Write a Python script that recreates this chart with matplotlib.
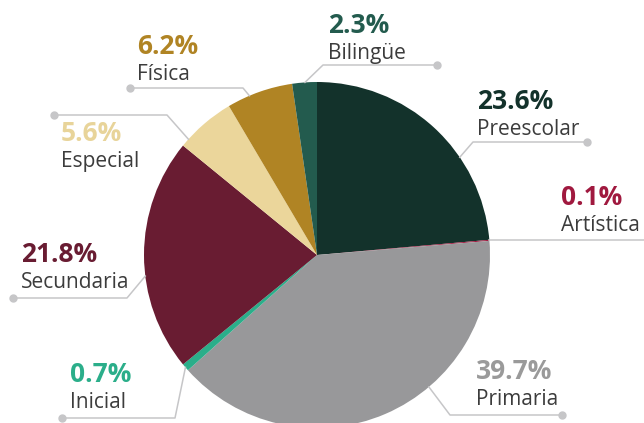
import numpy as np
import matplotlib.pyplot as plt

# Distribución por tipo de educación (%)
categorias = ['Preescolar', 'Artística', 'Primaria', 'Inicial',
              'Secundaria', 'Especial', 'Física', 'Bilingüe']
porcentajes = [23.6, 0.1, 39.7, 0.7, 21.8, 5.6, 6.2, 2.3]
colores = ['#13322b', '#a0193f', '#98989a', '#2bae8a',
           '#691c32', '#ebd69b', '#b08424', '#235b4e']
colores_texto = ['#13322b', '#a0193f', '#9a9a9a', '#2bae8a',
                 '#691c32', '#e8d49a', '#b08424', '#235b4e']

W, H = 644, 423
cx, cy, r = 317, 255, 173

# posición de cada etiqueta (px, eje y hacia abajo)
txt_x = [477, 561, 476, 70, 21, 61, 137, 328]
txt_y = [109, 205, 379, 382, 262, 141, 54, 33]
# línea guía: ángulo en el borde, codo y punto final
ang = [34.4, 4.86, -49.7, -139.5, 187, 138, 113, 94]
codo = [(473, 142), None, (450, 415), (175, 418), (127, 298),
        (167, 115), (243, 88), (323, 65)]
punto_x = [587, 644, 562, 62, 13, 54, 130, 437]

fig = plt.figure(figsize=(W / 100, H / 100), dpi=100)
ax = fig.add_axes([0, 0, 1, 1])

ax.pie(porcentajes, colors=colores, center=(cx, cy), radius=r,
       startangle=-90, counterclock=True,
       wedgeprops=dict(linewidth=0))

gris = '#c6c6c8'
for i in range(len(categorias)):
    a = np.radians(ang[i])
    x0 = cx + r * np.cos(a)
    y0 = cy - r * np.sin(a)
    if codo[i] is None:
        xs, ys = [x0, punto_x[i]], [y0, y0]
    else:
        xs = [x0, codo[i][0], punto_x[i]]
        ys = [y0, codo[i][1], codo[i][1]]
        ax.plot(punto_x[i], ys[-1], 'o', color=gris, markersize=5, zorder=3)
    ax.plot(xs, ys, color=gris, linewidth=1.1, zorder=2)

    ax.text(txt_x[i], txt_y[i], f'{porcentajes[i]:.1f}%', fontsize=19,
            fontweight='bold', family='Open Sans', color=colores_texto[i],
            va='baseline', ha='left')
    ax.text(txt_x[i], txt_y[i] + 26, categorias[i], fontsize=15,
            family='Open Sans', color='#3c3c3c', va='baseline', ha='left')

ax.set_xlim(0, W)
ax.set_ylim(H, 0)
ax.axis('off')

fig.savefig('out.png', dpi=100)
